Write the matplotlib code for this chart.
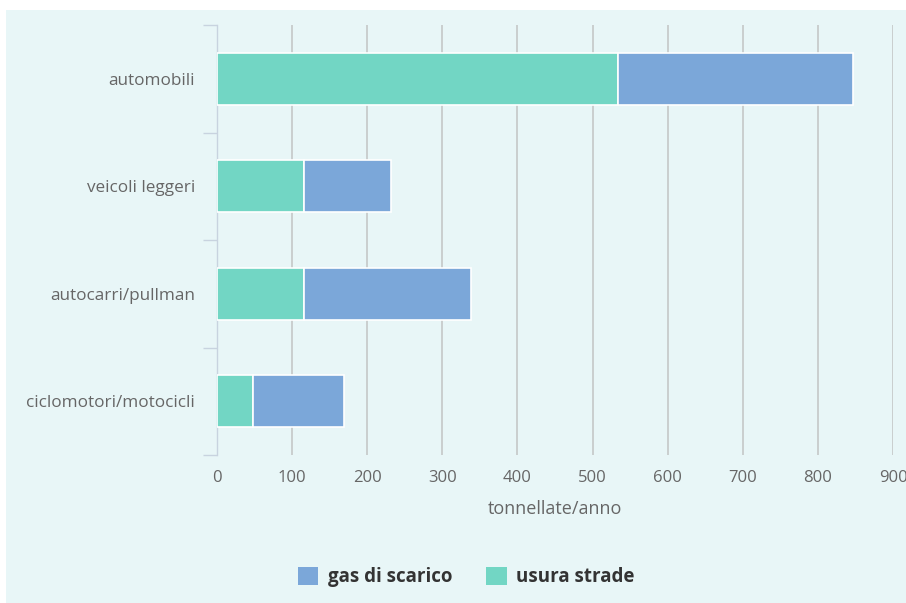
import matplotlib.pyplot as plt
from matplotlib.patches import Rectangle

categories = ['automobili', 'veicoli leggeri', 'autocarri/pullman', 'ciclomotori/motocicli']
usura_strade = [534, 116, 116, 48]
gas_scarico = [313, 116, 222, 121]

teal = '#72d6c4'
blue = '#7ba7d9'
text_grey = '#666666'

plt.rcParams['font.family'] = ['Open Sans', 'DejaVu Sans']

fig = plt.figure(figsize=(9.06, 6.03), dpi=100)
fig.patch.set_facecolor('white')
fig.patches.append(Rectangle((6 / 906, 0), 1, 1 - 10 / 603, transform=fig.transFigure,
                             facecolor='#e8f6f7', edgecolor='none', zorder=-10))

ax = fig.add_axes([217 / 906, 148 / 603, 676 / 906, 430 / 603])
ax.set_facecolor('none')

pos = list(range(len(categories)))
ax.barh(pos, usura_strade, height=0.48, color=teal, edgecolor='white', linewidth=1.2,
        label='usura strade', zorder=3)
ax.barh(pos, gas_scarico, left=usura_strade, height=0.48, color=blue, edgecolor='white',
        linewidth=1.2, label='gas di scarico', zorder=3)

ax.set_xlim(0, 900)
ax.set_ylim(3.5, -0.5)
ax.set_xticks(range(0, 901, 100))
ax.grid(axis='x', color='#c4c8c8', linewidth=1.2, zorder=0)
ax.tick_params(axis='x', length=0, pad=11, labelsize=12, labelcolor=text_grey)

# category boundaries as ticks, names at band centres
ax.set_yticks([-0.5, 0.5, 1.5, 2.5, 3.5])
ax.set_yticklabels([])
ax.tick_params(axis='y', which='major', length=10, width=1, color='#c8d3df')
ax.set_yticks(pos, minor=True)
ax.set_yticklabels(categories, minor=True)
ax.tick_params(axis='y', which='minor', length=0, pad=16, labelsize=12.3, labelcolor=text_grey)

for side in ['top', 'right', 'bottom']:
    ax.spines[side].set_visible(False)
ax.spines['left'].set_color('#c8d3df')
ax.spines['left'].set_linewidth(1)

ax.set_xlabel('tonnellate/anno', fontsize=13, color=text_grey, labelpad=10)

handles, labels = ax.get_legend_handles_labels()
leg = fig.legend(handles[::-1], labels[::-1], loc='center', bbox_to_anchor=(466 / 906, 26 / 603),
                 ncol=2, frameon=False, handlelength=1.1, handleheight=1.1,
                 columnspacing=1.8, handletextpad=0.5,
                 prop={'size': 13.5, 'weight': 'bold'})
for t in leg.get_texts():
    t.set_color('#333333')
for h in leg.legend_handles:
    h.set_edgecolor('none')

fig.savefig('out.png', dpi=100)
